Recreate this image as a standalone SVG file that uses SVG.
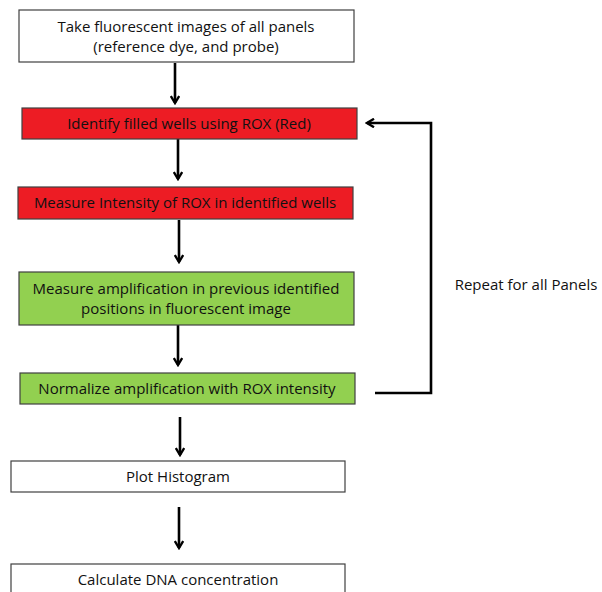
<svg xmlns="http://www.w3.org/2000/svg" width="602" height="592" viewBox="0 0 602 592">
<style>
.box{stroke:#404040;stroke-width:1.2}
.w{fill:#ffffff}.r{fill:#ED1C24}.g{fill:#92D050}
text{font-family:"Open Sans","Liberation Sans",sans-serif;font-size:15px;fill:#111;text-anchor:middle;dominant-baseline:central}
.c path,.c line{stroke:#000;stroke-width:2.6;fill:none}
</style>
<defs>
<marker id="ah" markerWidth="10" markerHeight="10" viewBox="0 0 10 10" refX="8" refY="5" orient="auto" markerUnits="userSpaceOnUse">
<path d="M1,0.8 L8,5 L1,9.2" fill="none" stroke="#000" stroke-width="2.4"/>
</marker>
</defs>
<rect width="602" height="592" fill="#fff"/>
<g class="c">
<line x1="175" y1="63" x2="175" y2="103" marker-end="url(#ah)"/>
<line x1="178" y1="139" x2="178" y2="179" marker-end="url(#ah)"/>
<line x1="179" y1="220" x2="179" y2="262" marker-end="url(#ah)"/>
<line x1="178" y1="325" x2="178" y2="365" marker-end="url(#ah)"/>
<line x1="180" y1="417" x2="180" y2="455" marker-end="url(#ah)"/>
<line x1="179" y1="507" x2="179" y2="548" marker-end="url(#ah)"/>
<path d="M375,393 L431,393 L431,123 L367,123" marker-end="url(#ah)"/>
</g>
<g id="n1"><rect class="box w" x="19" y="10" width="335" height="52"/><text x="186" y="26">Take fluorescent images of all panels</text><text x="186" y="46">(reference dye, and probe)</text></g>
<g id="n2"><rect class="box r" x="22" y="108" width="335" height="31"/><text x="189" y="123">Identify filled wells using ROX (Red)</text></g>
<g id="n3"><rect class="box r" x="18" y="187" width="335" height="32"/><text x="185" y="202">Measure Intensity of ROX in identified wells</text></g>
<g id="n4"><rect class="box g" x="19" y="272" width="335" height="53"/><text x="186" y="288">Measure amplification in previous identified</text><text x="186" y="308">positions in fluorescent image</text></g>
<g id="n5"><rect class="box g" x="20" y="373" width="335" height="31"/><text x="187" y="388">Normalize amplification with ROX intensity</text></g>
<g id="n6"><rect class="box w" x="11" y="461" width="334" height="31"/><text x="178" y="476">Plot Histogram</text></g>
<g id="n7"><rect class="box w" x="11" y="564" width="334" height="40"/><text x="178" y="579">Calculate DNA concentration</text></g>
<g id="lbl"><text x="526" y="284">Repeat for all Panels</text></g>
</svg>
